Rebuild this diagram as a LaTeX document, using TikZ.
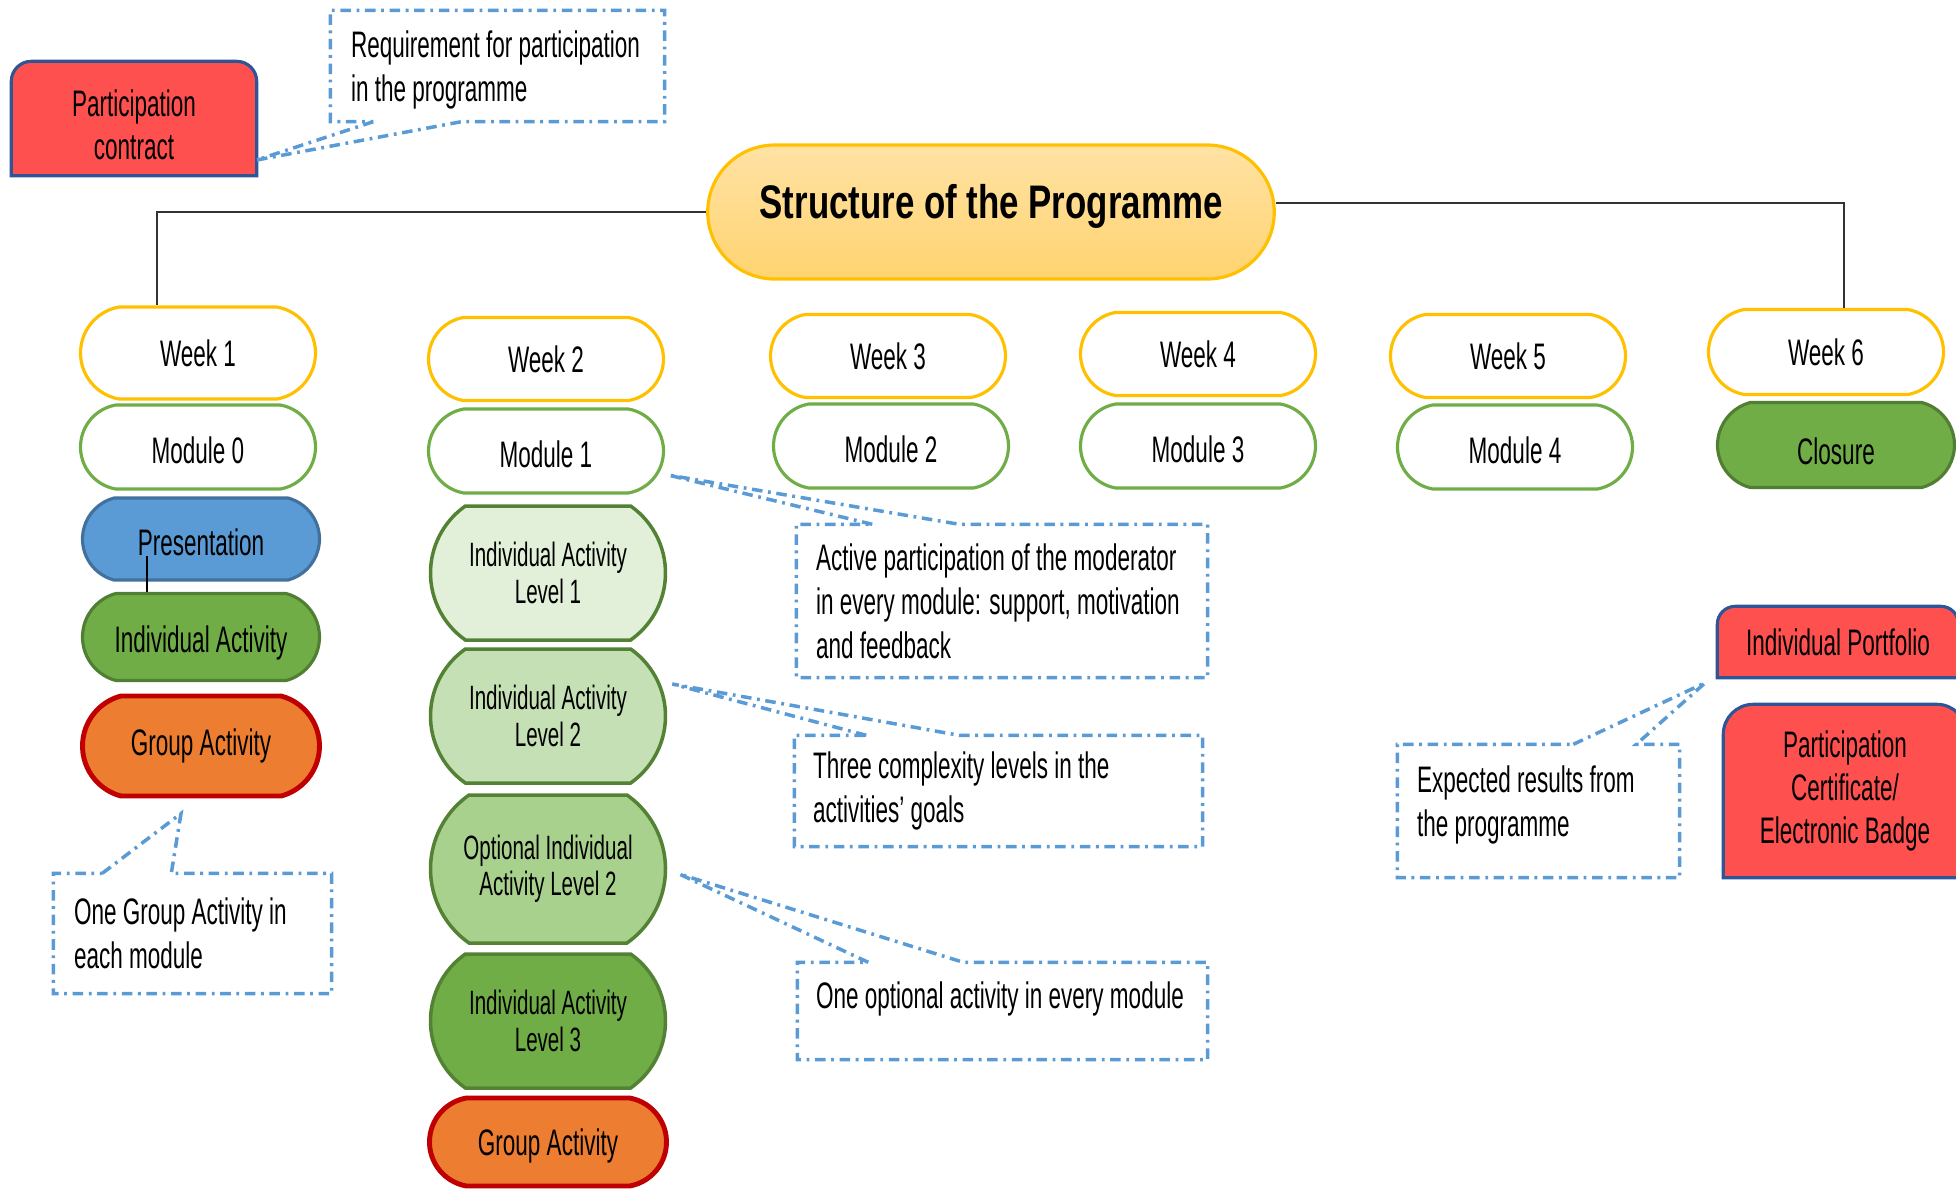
\documentclass[tikz,border=0pt]{standalone}
\usepackage{fontspec}
\setmainfont{Liberation Sans}[FakeStretch=0.61]
\newfontfamily\titlefont{Liberation Sans}[FakeStretch=0.74]
\usetikzlibrary{shapes.misc, backgrounds}

\definecolor{wkyellow}{HTML}{FFC000}
\definecolor{modgreen}{HTML}{70AD47}
\definecolor{darkgreen}{HTML}{507E32}
\definecolor{lvlline}{HTML}{548235}
\definecolor{lvlone}{HTML}{E2F0D9}
\definecolor{lvltwo}{HTML}{C5E0B4}
\definecolor{optlvl}{HTML}{A9D18E}
\definecolor{presblue}{HTML}{5B9BD5}
\definecolor{presline}{HTML}{41719C}
\definecolor{grporange}{HTML}{ED7D31}
\definecolor{grpred}{HTML}{C00000}
\definecolor{boxred}{HTML}{FF5050}
\definecolor{boxline}{HTML}{2F5597}
\definecolor{noteblue}{HTML}{5B9BD5}
\definecolor{titletop}{HTML}{FFE2A4}
\definecolor{titlebot}{HTML}{FFD370}

\begin{document}
\begin{tikzpicture}
	\tikzstyle{week_i} = [rounded rectangle, rounded rectangle arc length=160, draw=wkyellow, line width=0.9pt, fill=white, minimum width=2.35cm, minimum height=0.84cm, inner sep=0pt, align=flush center, font=\fontsize{10.5}{12.5}\selectfont]
	\tikzstyle{mod_i} = [week_i, draw=modgreen, text height=0.33cm]
	\tikzstyle{act_i} = [week_i, rounded rectangle arc length=150, minimum width=2.37cm, draw=darkgreen, fill=modgreen]
	\tikzstyle{lvl_i} = [week_i, rounded rectangle arc length=110, minimum width=2.35cm, draw=lvlline, line width=1pt, font=\fontsize{9.6}{10.3}\selectfont]
	\tikzstyle{grp_i} = [act_i, draw=grpred, fill=grporange, line width=1.4pt]
	\tikzstyle{title} = [rounded rectangle, draw=wkyellow, line width=0.9pt, top color=titletop, bottom color=titlebot, minimum width=5.9cm, minimum height=1.34cm, text depth=0.22cm, font=\titlefont\bfseries\fontsize{13.4}{15}\selectfont]
	\tikzstyle{red_box} = [rectangle, inner sep=0pt, align=flush center, font=\fontsize{10.5}{12.2}\selectfont]
	\tikzstyle{red_line} = [fill=boxred, draw=boxline, line width=0.9pt]
	\tikzstyle{note} = [rectangle, inner sep=0pt, align=flush left, font=\fontsize{10.5}{12.5}\selectfont]
	\tikzstyle{note_line} = [draw=noteblue, line width=1pt, dash pattern=on 3pt off 1.6pt on 0.8pt off 1.6pt]
	\tikzstyle{link} = [draw=black!80, line width=0.8pt]

\useasboundingbox (0,0) rectangle (19.56,-11.88);

%root
\node[title] (prog) at (9.91,-2.12) {Structure of the Programme};

%weeks
\foreach \name/\x/\y/\h/\txt in {week_1/1.98/-3.53/0.92/Week 1, week_2/5.46/-3.59/0.83/Week 2, week_3/8.88/-3.56/0.83/Week 3, week_4/11.98/-3.54/0.83/Week 4, week_5/15.08/-3.56/0.83/Week 5, week_6/18.26/-3.52/0.85/Week 6}
  	\node[week_i, minimum height=\h cm] (\name) at (\x,\y) {\txt};

%modules
\foreach \name/\x/\y/\txt in {mod_0/1.98/-4.47/Module 0, mod_1/5.46/-4.51/Module 1, mod_2/8.91/-4.46/Module 2, mod_3/11.98/-4.46/Module 3, mod_4/15.15/-4.47/Module 4}
  	\node[mod_i] (\name) at (\x,\y) {\txt};
\node[act_i, minimum height=0.85cm, text height=0.39cm] (closure) at (18.36,-4.45) {Closure};

%week 1 activities
\node[act_i, draw=presline, fill=presblue, minimum height=0.82cm, text height=0.33cm] (pres) at (2.01,-5.39) {Presentation};
\node[act_i, minimum height=0.87cm, text height=0.39cm] (ind_1) at (2.01,-6.37) {Individual Activity};
\node[grp_i, minimum height=1.0cm] (grp_1) at (2.01,-7.46) {Group Activity};
\draw[black, line width=0.6pt] ([xshift=-0.54cm]ind_1.north) -- ++(0,0.36);

%week 2 activities
\foreach \name/\y/\h/\col/\txt in {lvl_1/-5.73/1.34/lvlone/Individual Activity\\Level 1, lvl_2/-7.16/1.34/lvltwo/Individual Activity\\Level 2, opt_2/-8.69/1.48/optlvl/Optional Individual\\Activity Level 2, lvl_3/-10.21/1.34/modgreen/Individual Activity\\Level 3}
  	\node[lvl_i, fill=\col, minimum height=\h cm] (\name) at (5.48,\y) {\txt};
\node[grp_i, rounded rectangle arc length=160, minimum height=0.88cm, text height=0.35cm] (grp_2) at (5.48,-11.42) {Group Activity};

\draw[link] (prog.west) -| ([xshift=-0.41cm]week_1.north);
\draw[link] ([yshift=0.09cm]prog.east) -| ([xshift=0.18cm]week_6.north);

%red boxes
\node[red_box, minimum width=2.44cm, minimum height=1.13cm, text height=0.82cm] (contract) at (1.34,-1.185) {Participation\\contract};
\node[red_box, minimum width=2.40cm, minimum height=0.70cm] (portf) at (18.38,-6.42) {Individual Portfolio};
\node[red_box, minimum width=2.42cm, minimum height=1.72cm] (cert) at (18.45,-7.91) {Participation\\Certificate/\\Electronic Badge};
\begin{scope}[on background layer]
\foreach \name/\r in {contract/0.2, portf/0.18, cert/0.3}
	\draw[red_line] (\name.south west) [rounded corners=\r cm] -- (\name.north west) -- (\name.north east) [sharp corners] -- (\name.south east) -- cycle;
\end{scope}

%notes
\node[note, minimum width=3.33cm, minimum height=1.10cm, text width=2.93cm, text height=0.35cm] (req_note) at (4.975,-0.66) {Requirement for participation\\in the programme};
\node[note, minimum width=2.77cm, minimum height=1.19cm, text width=2.37cm] (grp_note) at (1.925,-9.335) {One Group Activity in\\each module};
\node[note, minimum width=4.10cm, minimum height=1.52cm, text width=3.72cm] (act_note) at (10.02,-6.01) {Active participation of the moderator\\in every module: support, motivation\\and feedback};
\node[note, minimum width=4.07cm, minimum height=1.10cm, text width=3.71cm] (lvl_note) at (9.985,-7.91) {Three complexity levels in the\\activities' goals};
\node[note, minimum width=4.09cm, minimum height=0.96cm, text width=3.73cm, text depth=0.32cm] (opt_note) at (10.025,-10.11) {One optional activity in every module};
\node[note, minimum width=2.81cm, minimum height=1.32cm, text width=2.43cm, text depth=0.64cm] (exp_note) at (15.385,-8.11) {Expected results from\\the programme};

%pointers
\draw[note_line] ([xshift=0.43cm]req_note.south west) -- ([yshift=-0.415cm]contract.east) -- ([xshift=1.31cm]req_note.south west) -- (req_note.south east) -- (req_note.north east) -- (req_note.north west) -- (req_note.south west) -- cycle;
\draw[note_line] ([xshift=0.49cm]grp_note.north west) -- ([xshift=-0.2cm,yshift=-0.15cm]grp_1.south) -- ([xshift=1.18cm]grp_note.north west) -- (grp_note.north east) -- (grp_note.south east) -- (grp_note.south west) -- (grp_note.north west) -- cycle;
\draw[note_line] ([xshift=0.76cm]act_note.north west) -- ([xshift=0.03cm,yshift=-0.24cm]mod_1.east) -- ([xshift=1.63cm]act_note.north west) -- (act_note.north east) -- (act_note.south east) -- (act_note.south west) -- (act_note.north west) -- cycle;
\draw[note_line] ([xshift=0.72cm]lvl_note.north west) -- ([xshift=0.05cm,yshift=0.32cm]lvl_2.east) -- ([xshift=1.65cm]lvl_note.north west) -- (lvl_note.north east) -- (lvl_note.south east) -- (lvl_note.south west) -- (lvl_note.north west) -- cycle;
\draw[note_line] ([xshift=0.71cm]opt_note.north west) -- ([xshift=0.12cm,yshift=-0.05cm]opt_2.east) -- ([xshift=1.66cm]opt_note.north west) -- (opt_note.north east) -- (opt_note.south east) -- (opt_note.south west) -- (opt_note.north west) -- cycle;
\draw[note_line] ([xshift=1.76cm]exp_note.north west) -- ([xshift=-0.12cm,yshift=-0.05cm]portf.south west) -- ([xshift=2.39cm]exp_note.north west) -- (exp_note.north east) -- (exp_note.south east) -- (exp_note.south west) -- (exp_note.north west) -- cycle;
\end{tikzpicture}
\end{document}
